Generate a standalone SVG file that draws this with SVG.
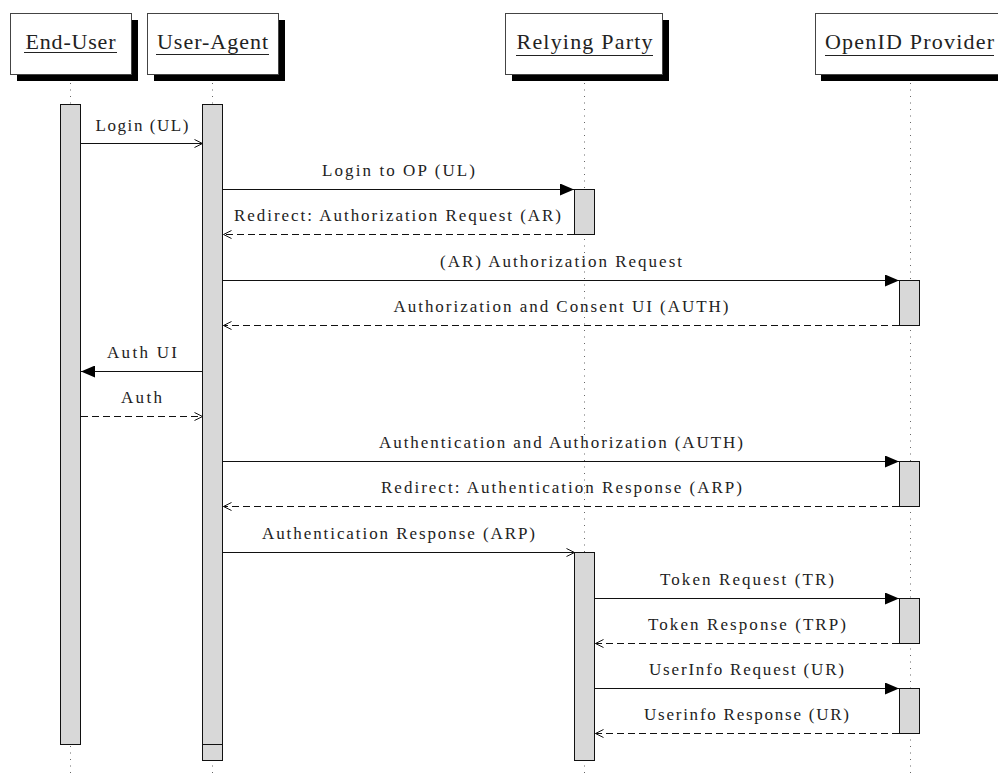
<svg xmlns="http://www.w3.org/2000/svg" width="998" height="775" viewBox="0 0 998 775">
<style>
.box{fill:#fff;stroke:#444;stroke-width:1}
.shadow{fill:#000}
.hdr{font-family:"Liberation Serif",serif;font-size:22px;fill:#222;text-anchor:middle}
.ul{stroke:#222;stroke-width:1}
.life{stroke:#666;stroke-width:1;stroke-dasharray:1 5.5}
.bar{fill:#d8d8d8;stroke:#111;stroke-width:1}
.msg{stroke:#111;stroke-width:1.1;fill:none}
.dash{stroke-dasharray:7 4}
.lbl{font-family:"Liberation Serif",serif;font-size:17px;fill:#222;text-anchor:middle}
</style>
<defs>
<marker id="fa" markerWidth="15" markerHeight="12" refX="14" refY="6" orient="auto" markerUnits="userSpaceOnUse"><path d="M0,0 L14,6 L0,12 Z" fill="#000"/></marker>
<marker id="oa" markerWidth="10" markerHeight="10" refX="8.5" refY="5" orient="auto" markerUnits="userSpaceOnUse"><path d="M0.5,1 L8.5,5 L0.5,9" fill="none" stroke="#111" stroke-width="1"/></marker>
</defs>
<rect width="998" height="775" fill="#fff"/>

<g id="end-user">
<rect class="shadow" x="17" y="20" width="121" height="61"/>
<rect class="box" x="10.5" y="13.5" width="121" height="61"/>
<text class="hdr" x="70.5" y="49" textLength="90" lengthAdjust="spacing">End-User</text>
<line class="ul" x1="24" y1="52.5" x2="117" y2="52.5"/>
<line class="life" x1="70.5" y1="83" x2="70.5" y2="775"/>
<rect class="bar" x="60.5" y="104.5" width="20" height="640"/>
</g>

<g id="user-agent">
<rect class="shadow" x="154" y="20" width="131" height="61"/>
<rect class="box" x="147.5" y="13.5" width="131" height="61"/>
<text class="hdr" x="212.5" y="49" textLength="111" lengthAdjust="spacing">User-Agent</text>
<line class="ul" x1="156" y1="54.5" x2="269" y2="54.5"/>
<line class="life" x1="212.5" y1="83" x2="212.5" y2="775"/>
<rect class="bar" x="202.5" y="143.5" width="20" height="617"/>
<rect class="bar" x="202.5" y="104.5" width="20" height="640"/>
</g>

<g id="relying-party">
<rect class="shadow" x="512" y="20" width="157" height="61"/>
<rect class="box" x="505.5" y="13.5" width="157" height="61"/>
<text class="hdr" x="584.5" y="49" textLength="136" lengthAdjust="spacing">Relying Party</text>
<line class="ul" x1="516" y1="55.5" x2="653" y2="55.5"/>
<line class="life" x1="584.5" y1="83" x2="584.5" y2="775"/>
<rect class="bar" x="574.5" y="189.5" width="20" height="45"/>
<rect class="bar" x="574.5" y="552.5" width="20" height="208"/>
</g>

<g id="openid-provider">
<rect class="shadow" x="821" y="20" width="190" height="61"/>
<rect class="box" x="815.5" y="13.5" width="190" height="61"/>
<text class="hdr" x="909.5" y="49" textLength="169" lengthAdjust="spacing">OpenID Provider</text>
<line class="ul" x1="825" y1="55.5" x2="994" y2="55.5"/>
<line class="life" x1="910.5" y1="83" x2="910.5" y2="775"/>
<rect class="bar" x="899.5" y="280.5" width="20" height="45"/>
<rect class="bar" x="899.5" y="461.5" width="20" height="45"/>
<rect class="bar" x="899.5" y="598.5" width="20" height="45"/>
<rect class="bar" x="899.5" y="688.5" width="20" height="45"/>
</g>

<g id="connectors">
<line class="msg" x1="81" y1="143.5" x2="202.5" y2="143.5" marker-end="url(#oa)"/>
<text class="lbl" x="142" y="130.5" textLength="93" lengthAdjust="spacing">Login (UL)</text>

<line class="msg" x1="223" y1="189.5" x2="574" y2="189.5" marker-end="url(#fa)"/>
<text class="lbl" x="398.5" y="176" textLength="153" lengthAdjust="spacing">Login to OP (UL)</text>

<line class="msg dash" x1="574" y1="234.5" x2="223.5" y2="234.5" marker-end="url(#oa)"/>
<text class="lbl" x="397.5" y="221" textLength="327" lengthAdjust="spacing">Redirect: Authorization Request (AR)</text>

<line class="msg" x1="223" y1="280.5" x2="899" y2="280.5" marker-end="url(#fa)"/>
<text class="lbl" x="561" y="267" textLength="242" lengthAdjust="spacing">(AR) Authorization Request</text>

<line class="msg dash" x1="899" y1="325.5" x2="223.5" y2="325.5" marker-end="url(#oa)"/>
<text class="lbl" x="561" y="312" textLength="335" lengthAdjust="spacing">Authorization and Consent UI (AUTH)</text>

<line class="msg" x1="202" y1="371.5" x2="81" y2="371.5" marker-end="url(#fa)"/>
<text class="lbl" x="142" y="358" textLength="70" lengthAdjust="spacing">Auth UI</text>

<line class="msg dash" x1="81" y1="416.5" x2="202.5" y2="416.5" marker-end="url(#oa)"/>
<text class="lbl" x="141.5" y="403" textLength="41" lengthAdjust="spacing">Auth</text>

<line class="msg" x1="223" y1="461.5" x2="899" y2="461.5" marker-end="url(#fa)"/>
<text class="lbl" x="561" y="448" textLength="364" lengthAdjust="spacing">Authentication and Authorization (AUTH)</text>

<line class="msg dash" x1="899" y1="506.5" x2="223.5" y2="506.5" marker-end="url(#oa)"/>
<text class="lbl" x="561.5" y="493" textLength="361" lengthAdjust="spacing">Redirect: Authentication Response (ARP)</text>

<line class="msg" x1="223" y1="552.5" x2="574.5" y2="552.5" marker-end="url(#oa)"/>
<text class="lbl" x="398.5" y="539" textLength="273" lengthAdjust="spacing">Authentication Response (ARP)</text>

<line class="msg" x1="595" y1="598.5" x2="899" y2="598.5" marker-end="url(#fa)"/>
<text class="lbl" x="747" y="585" textLength="174" lengthAdjust="spacing">Token Request (TR)</text>

<line class="msg dash" x1="899" y1="643.5" x2="595.5" y2="643.5" marker-end="url(#oa)"/>
<text class="lbl" x="747" y="630" textLength="198" lengthAdjust="spacing">Token Response (TRP)</text>

<line class="msg" x1="595" y1="688.5" x2="899" y2="688.5" marker-end="url(#fa)"/>
<text class="lbl" x="746.5" y="675" textLength="195" lengthAdjust="spacing">UserInfo Request (UR)</text>

<line class="msg dash" x1="899" y1="733.5" x2="595.5" y2="733.5" marker-end="url(#oa)"/>
<text class="lbl" x="746.5" y="720" textLength="205" lengthAdjust="spacing">Userinfo Response (UR)</text>
</g>
</svg>
